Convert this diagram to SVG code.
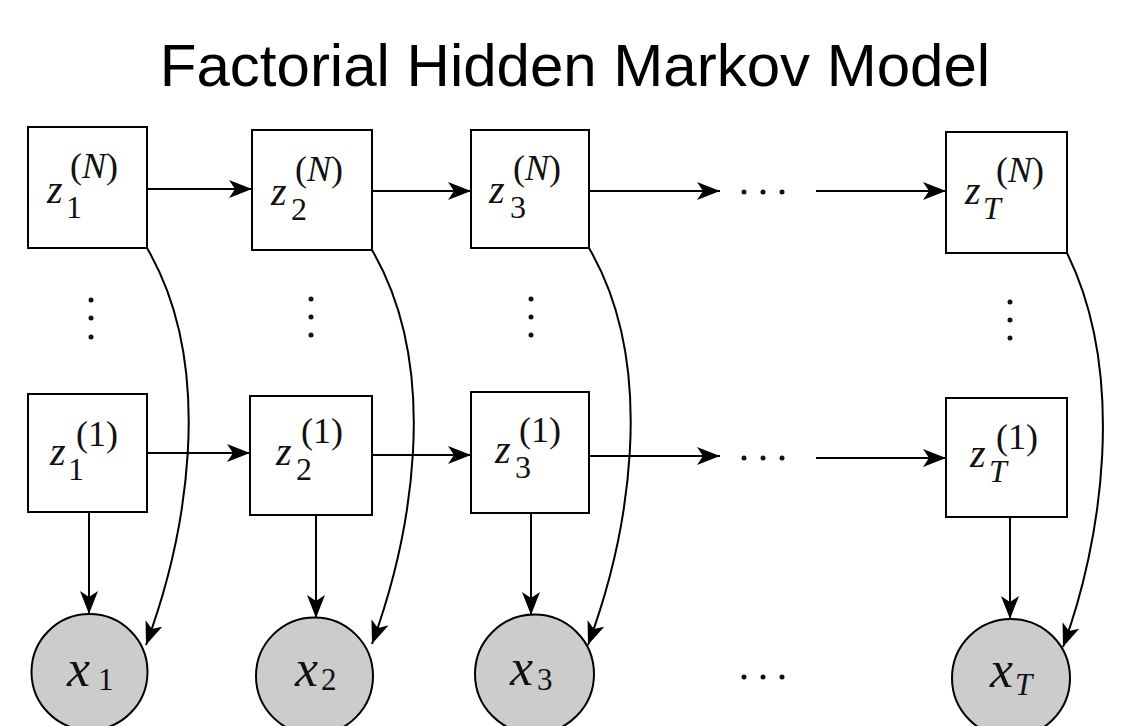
<svg xmlns="http://www.w3.org/2000/svg" width="1129" height="726" viewBox="0 0 1129 726">
<style>
.box{fill:#fff;stroke:#000;stroke-width:2}
.obs{fill:#cccccc;stroke:#000;stroke-width:2}
.edge{fill:none;stroke:#000;stroke-width:2}
.m{font-family:"Liberation Serif","DejaVu Serif",serif;fill:#111}
.v{font-style:italic;font-size:40px}
.s{font-size:32px}
.p{font-size:36px}
.si{font-style:italic}
.xv{font-style:italic;font-size:52px}
.xs{font-size:31px}
.dot{fill:#111}
.title{font-family:"Liberation Sans",Arial,sans-serif;font-size:60px;fill:#000}
</style>
<defs>
<marker id="arr" markerUnits="userSpaceOnUse" markerWidth="26" markerHeight="20" refX="23" refY="9" orient="auto">
<path d="M0,0 L23,9 L0,18 L6,9 z" fill="#000"/>
</marker>
</defs>
<rect width="1129" height="726" fill="#fff"/>
<text class="title" x="575" y="86" text-anchor="middle">Factorial Hidden Markov Model</text>

<g id="connectors">
<line class="edge" x1="147" y1="189" x2="252" y2="189" marker-end="url(#arr)"/>
<line class="edge" x1="372" y1="191" x2="471" y2="191" marker-end="url(#arr)"/>
<line class="edge" x1="589" y1="191" x2="720" y2="191" marker-end="url(#arr)"/>
<line class="edge" x1="816" y1="191" x2="946" y2="191" marker-end="url(#arr)"/>
<line class="edge" x1="147" y1="453" x2="250" y2="453" marker-end="url(#arr)"/>
<line class="edge" x1="372" y1="455" x2="471" y2="455" marker-end="url(#arr)"/>
<line class="edge" x1="589" y1="456" x2="720" y2="456" marker-end="url(#arr)"/>
<line class="edge" x1="816" y1="458" x2="946" y2="458" marker-end="url(#arr)"/>
<line class="edge" x1="89" y1="512" x2="89" y2="614" marker-end="url(#arr)"/>
<line class="edge" x1="316" y1="515" x2="316" y2="618" marker-end="url(#arr)"/>
<line class="edge" x1="531" y1="513" x2="531" y2="615" marker-end="url(#arr)"/>
<line class="edge" x1="1010" y1="517" x2="1010" y2="619" marker-end="url(#arr)"/>
<path class="edge" d="M147,248 C218,370 185,540 146,645" marker-end="url(#arr)"/>
<path class="edge" d="M372,250 C443,372 410,540 372,644" marker-end="url(#arr)"/>
<path class="edge" d="M589,248 C660,370 627,540 588,645" marker-end="url(#arr)"/>
<path class="edge" d="M1067,253 C1127,375 1102,542 1063,647" marker-end="url(#arr)"/>
</g>

<g id="z1N"><rect class="box" x="28" y="127" width="119" height="121"/>
<text class="m v" x="47" y="203">z</text><text class="m s" x="66" y="218">1</text><text class="m p" x="70" y="178">(<tspan class="si">N</tspan>)</text></g>
<g id="z2N"><rect class="box" x="252" y="130" width="120" height="120"/>
<text class="m v" x="271" y="205">z</text><text class="m s" x="291" y="220">2</text><text class="m p" x="295" y="181">(<tspan class="si">N</tspan>)</text></g>
<g id="z3N"><rect class="box" x="471" y="130" width="118" height="118"/>
<text class="m v" x="489" y="203">z</text><text class="m s" x="510" y="218">3</text><text class="m p" x="513" y="180">(<tspan class="si">N</tspan>)</text></g>
<g id="zTN"><rect class="box" x="946" y="132" width="121" height="121"/>
<text class="m v" x="965" y="204">z</text><text class="m s si" x="983" y="219">T</text><text class="m p" x="996" y="182">(<tspan class="si">N</tspan>)</text></g>

<g id="z11"><rect class="box" x="28" y="394" width="119" height="118"/>
<text class="m v" x="50" y="465">z</text><text class="m s" x="68" y="480">1</text><text class="m p" x="76" y="446">(1)</text></g>
<g id="z21"><rect class="box" x="250" y="396" width="122" height="119"/>
<text class="m v" x="276" y="465">z</text><text class="m s" x="296" y="480">2</text><text class="m p" x="301" y="443">(1)</text></g>
<g id="z31"><rect class="box" x="471" y="392" width="118" height="121"/>
<text class="m v" x="495" y="463">z</text><text class="m s" x="515" y="478">3</text><text class="m p" x="519" y="442">(1)</text></g>
<g id="zT1"><rect class="box" x="946" y="398" width="121" height="119"/>
<text class="m v" x="970" y="467">z</text><text class="m s si" x="989" y="482">T</text><text class="m p" x="996" y="449">(1)</text></g>

<g id="x1"><circle class="obs" cx="89.5" cy="672" r="58"/>
<text class="m xv" x="67" y="686">x</text><text class="m xs" x="98" y="690">1</text></g>
<g id="x2"><circle class="obs" cx="314.5" cy="676" r="58.5"/>
<text class="m xv" x="295" y="686">x</text><text class="m xs" x="321" y="690">2</text></g>
<g id="x3"><circle class="obs" cx="534.5" cy="674" r="59.5"/>
<text class="m xv" x="510" y="685">x</text><text class="m xs" x="537" y="690">3</text></g>
<g id="xT"><circle class="obs" cx="1011" cy="678" r="59"/>
<text class="m xv" x="990" y="687">x</text><text class="m xs si" x="1015" y="695">T</text></g>

<g id="dots">
<circle class="dot" cx="91" cy="300" r="2.5"/><circle class="dot" cx="91" cy="318" r="2.5"/><circle class="dot" cx="91" cy="337" r="2.5"/>
<circle class="dot" cx="311" cy="299" r="2.5"/><circle class="dot" cx="311" cy="317" r="2.5"/><circle class="dot" cx="311" cy="335" r="2.5"/>
<circle class="dot" cx="531" cy="299" r="2.5"/><circle class="dot" cx="531" cy="317" r="2.5"/><circle class="dot" cx="531" cy="335" r="2.5"/>
<circle class="dot" cx="1010" cy="302" r="2.5"/><circle class="dot" cx="1010" cy="320" r="2.5"/><circle class="dot" cx="1010" cy="338" r="2.5"/>
<circle class="dot" cx="744" cy="192" r="2.5"/><circle class="dot" cx="763" cy="192" r="2.5"/><circle class="dot" cx="782" cy="192" r="2.5"/>
<circle class="dot" cx="744" cy="458" r="2.5"/><circle class="dot" cx="763" cy="458" r="2.5"/><circle class="dot" cx="782" cy="458" r="2.5"/>
<circle class="dot" cx="744" cy="677" r="2.5"/><circle class="dot" cx="763" cy="677" r="2.5"/><circle class="dot" cx="782" cy="677" r="2.5"/>
</g>
</svg>
